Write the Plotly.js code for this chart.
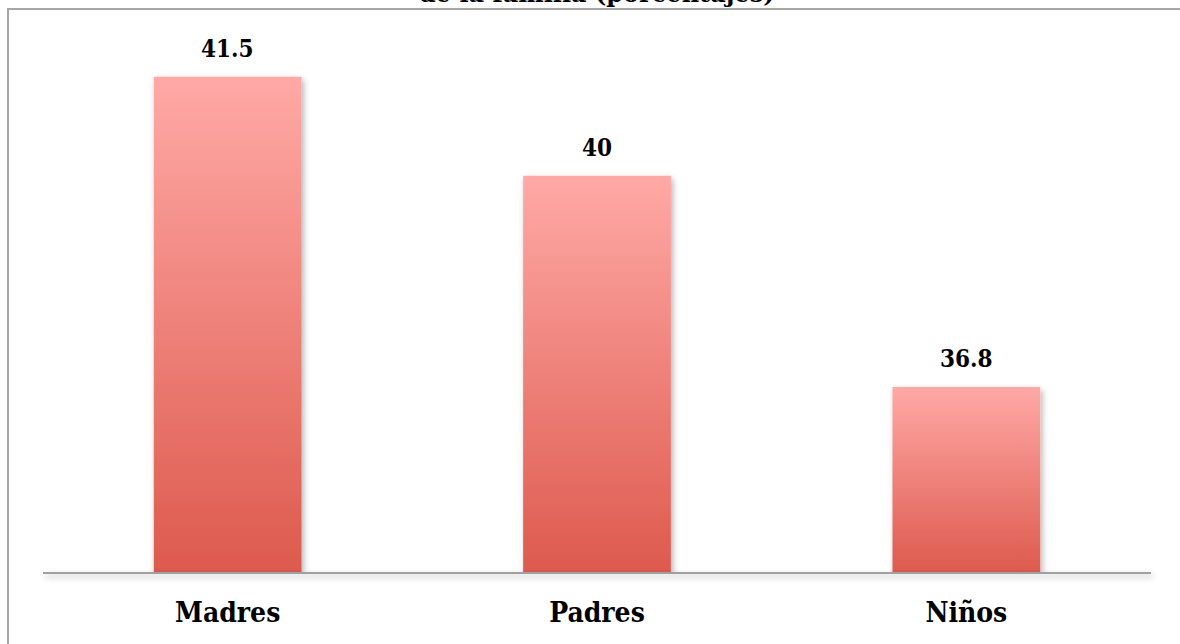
<!DOCTYPE html>
<html>
<head>
<meta charset="utf-8">
<script src="https://cdn.plot.ly/plotly-3.0.1.min.js"></script>
<style>
  html, body { margin: 0; padding: 0; background: #ffffff; overflow: hidden; }
  #wrap { position: relative; width: 1180px; height: 644px; }
  #chart { position: absolute; left: 0; top: 0; width: 1180px; height: 644px; }
  #frame { position: absolute; left: 7px; top: 8px; width: 1300px; height: 800px;
           border-left: 2px solid #a6a6a6; border-top: 2px solid #a6a6a6; pointer-events: none; }
</style>
</head>
<body>
<div id="wrap">
  <div id="chart"></div>
  <div id="frame"></div>
</div>
<script>
const categories = ["Madres", "Padres", "Niños"];
const values = [41.5, 40, 36.8];
const valueLabels = ["41.5", "40", "36.8"];
const axisMin = 34;
const axisMax = 42.36;
const titleText = "de la familia (porcentajes)";

const serif = "'DejaVu Serif Condensed', 'DejaVu Serif', serif";

const trace = {
  type: "bar",
  x: categories,
  y: values.map(v => v - axisMin),
  base: axisMin,
  width: 0.4,
  marker: { color: "#ee7f78", line: { width: 0 } },
  hoverinfo: "skip"
};

const annotations = categories.map((c, i) => ({
  x: c, y: values[i], xref: "x", yref: "y",
  text: "<b>" + valueLabels[i] + "</b>",
  showarrow: false, yanchor: "bottom", yshift: 12,
  font: { family: serif, size: 24, color: "#000000" }
}));

annotations.push({
  x: 0.5, y: 1, xref: "paper", yref: "paper",
  text: "<b>" + titleText + "</b>",
  showarrow: false, yanchor: "bottom", yshift: 10,
  font: { family: "'DejaVu Serif', serif", size: 24, color: "#000000" }
});

const layout = {
  width: 1180, height: 644,
  margin: { l: 43, r: 29, t: 20, b: 72, pad: 0 },
  paper_bgcolor: "#ffffff",
  plot_bgcolor: "#ffffff",
  showlegend: false,
  xaxis: {
    type: "category",
    showline: true, linecolor: "#a0a0a0", linewidth: 2,
    ticks: "", showgrid: false, zeroline: false,
    ticklabelstandoff: 14,
    tickfont: { family: serif, size: 28, color: "#000000", weight: "bold" }
  },
  yaxis: {
    range: [axisMin, axisMax],
    visible: false, showgrid: false, zeroline: false
  },
  annotations: annotations
};

Plotly.newPlot("chart", [trace], layout, { displayModeBar: false, staticPlot: true }).then(() => {
  const svg = document.querySelector("#chart .main-svg");
  const ns = "http://www.w3.org/2000/svg";
  let defs = svg.querySelector("defs");
  if (!defs) { defs = document.createElementNS(ns, "defs"); svg.insertBefore(defs, svg.firstChild); }
  const grad = document.createElementNS(ns, "linearGradient");
  grad.setAttribute("id", "barGrad");
  grad.setAttribute("x1", "0"); grad.setAttribute("y1", "0");
  grad.setAttribute("x2", "0"); grad.setAttribute("y2", "1");
  [["0", "#ffa9a6"], ["1", "#dd5a4e"]].forEach(([o, c]) => {
    const s = document.createElementNS(ns, "stop");
    s.setAttribute("offset", o); s.setAttribute("stop-color", c);
    grad.appendChild(s);
  });
  defs.appendChild(grad);
  const mkFilter = (id, user) => {
    const f = document.createElementNS(ns, "filter");
    f.setAttribute("id", id);
    if (user) {
      f.setAttribute("filterUnits", "userSpaceOnUse");
      f.setAttribute("x", "0"); f.setAttribute("y", "0");
      f.setAttribute("width", "1180"); f.setAttribute("height", "644");
    } else {
      f.setAttribute("x", "-20%"); f.setAttribute("y", "-10%");
      f.setAttribute("width", "140%"); f.setAttribute("height", "130%");
    }
    const ds = document.createElementNS(ns, "feDropShadow");
    ds.setAttribute("dx", "2"); ds.setAttribute("dy", "3");
    ds.setAttribute("stdDeviation", "3");
    ds.setAttribute("flood-color", "#000000");
    ds.setAttribute("flood-opacity", "0.3");
    f.appendChild(ds);
    defs.appendChild(f);
  };
  mkFilter("barShadow", false);
  mkFilter("lineShadow", true);
  svg.querySelectorAll(".bars .point path").forEach(p => {
    p.style.fill = "url(#barGrad)";
    p.style.fillOpacity = "1";
    p.setAttribute("filter", "url(#barShadow)");
  });
  const xl = svg.querySelector(".xlines-above");
  if (xl) xl.setAttribute("filter", "url(#lineShadow)");
});
</script>
</body>
</html>
